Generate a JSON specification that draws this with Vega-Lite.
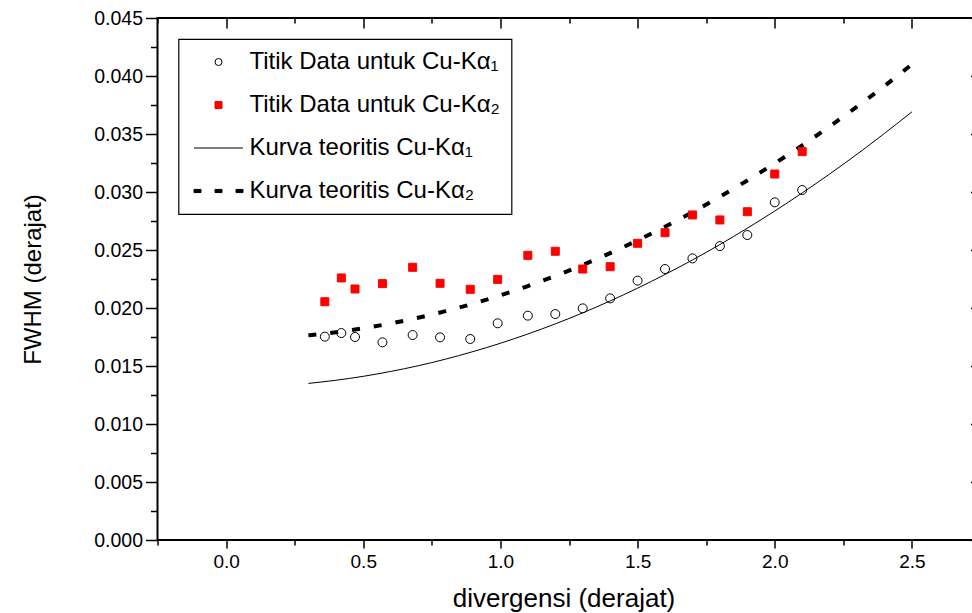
{
  "$schema": "https://vega.github.io/schema/vega-lite/v6.json",
  "autosize": "none",
  "width": 823,
  "height": 522,
  "padding": {"left": 157.5, "top": 18, "right": -8.5, "bottom": 73},
  "background": "white",
  "datasets": {
    "k1pts": [
      {"x": 0.36, "y": 0.01753, "series": "Titik Data untuk Cu-Kα₁"},
      {"x": 0.42, "y": 0.01784, "series": "Titik Data untuk Cu-Kα₁"},
      {"x": 0.47, "y": 0.0175, "series": "Titik Data untuk Cu-Kα₁"},
      {"x": 0.57, "y": 0.01704, "series": "Titik Data untuk Cu-Kα₁"},
      {"x": 0.68, "y": 0.01767, "series": "Titik Data untuk Cu-Kα₁"},
      {"x": 0.78, "y": 0.01747, "series": "Titik Data untuk Cu-Kα₁"},
      {"x": 0.89, "y": 0.01733, "series": "Titik Data untuk Cu-Kα₁"},
      {"x": 0.99, "y": 0.01868, "series": "Titik Data untuk Cu-Kα₁"},
      {"x": 1.10, "y": 0.01934, "series": "Titik Data untuk Cu-Kα₁"},
      {"x": 1.20, "y": 0.01948, "series": "Titik Data untuk Cu-Kα₁"},
      {"x": 1.30, "y": 0.01997, "series": "Titik Data untuk Cu-Kα₁"},
      {"x": 1.40, "y": 0.02083, "series": "Titik Data untuk Cu-Kα₁"},
      {"x": 1.50, "y": 0.02236, "series": "Titik Data untuk Cu-Kα₁"},
      {"x": 1.60, "y": 0.02336, "series": "Titik Data untuk Cu-Kα₁"},
      {"x": 1.70, "y": 0.02428, "series": "Titik Data untuk Cu-Kα₁"},
      {"x": 1.80, "y": 0.02534, "series": "Titik Data untuk Cu-Kα₁"},
      {"x": 1.90, "y": 0.02629, "series": "Titik Data untuk Cu-Kα₁"},
      {"x": 2.00, "y": 0.02911, "series": "Titik Data untuk Cu-Kα₁"},
      {"x": 2.10, "y": 0.03017, "series": "Titik Data untuk Cu-Kα₁"}
    ],
    "k2pts": [
      {"x": 0.36, "y": 0.02054, "series": "Titik Data untuk Cu-Kα₂"},
      {"x": 0.42, "y": 0.02259, "series": "Titik Data untuk Cu-Kα₂"},
      {"x": 0.47, "y": 0.02164, "series": "Titik Data untuk Cu-Kα₂"},
      {"x": 0.57, "y": 0.0221, "series": "Titik Data untuk Cu-Kα₂"},
      {"x": 0.68, "y": 0.02351, "series": "Titik Data untuk Cu-Kα₂"},
      {"x": 0.78, "y": 0.02213, "series": "Titik Data untuk Cu-Kα₂"},
      {"x": 0.89, "y": 0.02161, "series": "Titik Data untuk Cu-Kα₂"},
      {"x": 0.99, "y": 0.02247, "series": "Titik Data untuk Cu-Kα₂"},
      {"x": 1.10, "y": 0.02454, "series": "Titik Data untuk Cu-Kα₂"},
      {"x": 1.20, "y": 0.02489, "series": "Titik Data untuk Cu-Kα₂"},
      {"x": 1.30, "y": 0.02336, "series": "Titik Data untuk Cu-Kα₂"},
      {"x": 1.40, "y": 0.02356, "series": "Titik Data untuk Cu-Kα₂"},
      {"x": 1.50, "y": 0.02558, "series": "Titik Data untuk Cu-Kα₂"},
      {"x": 1.60, "y": 0.02649, "series": "Titik Data untuk Cu-Kα₂"},
      {"x": 1.70, "y": 0.02802, "series": "Titik Data untuk Cu-Kα₂"},
      {"x": 1.80, "y": 0.02759, "series": "Titik Data untuk Cu-Kα₂"},
      {"x": 1.90, "y": 0.0283, "series": "Titik Data untuk Cu-Kα₂"},
      {"x": 2.00, "y": 0.03155, "series": "Titik Data untuk Cu-Kα₂"},
      {"x": 2.10, "y": 0.03348, "series": "Titik Data untuk Cu-Kα₂"}
    ],
    "k1curve": [
      {"x": 0.3, "y": 0.0135}, {"x": 0.4, "y": 0.01377}, {"x": 0.5, "y": 0.01411},
      {"x": 0.6, "y": 0.01453}, {"x": 0.7, "y": 0.01502}, {"x": 0.8, "y": 0.01559},
      {"x": 0.9, "y": 0.01624}, {"x": 1.0, "y": 0.01696}, {"x": 1.1, "y": 0.01776},
      {"x": 1.2, "y": 0.01863}, {"x": 1.3, "y": 0.01958}, {"x": 1.4, "y": 0.02061},
      {"x": 1.5, "y": 0.02171}, {"x": 1.6, "y": 0.02289}, {"x": 1.7, "y": 0.02414},
      {"x": 1.8, "y": 0.02547}, {"x": 1.9, "y": 0.02688}, {"x": 2.0, "y": 0.02836},
      {"x": 2.1, "y": 0.02992}, {"x": 2.2, "y": 0.03155}, {"x": 2.3, "y": 0.03326},
      {"x": 2.4, "y": 0.03505}, {"x": 2.5, "y": 0.03691}
    ],
    "k2curve": [
      {"x": 0.3, "y": 0.01764}, {"x": 0.4, "y": 0.01791}, {"x": 0.5, "y": 0.01825},
      {"x": 0.6, "y": 0.01867}, {"x": 0.7, "y": 0.01916}, {"x": 0.8, "y": 0.01973},
      {"x": 0.9, "y": 0.02037}, {"x": 1.0, "y": 0.02109}, {"x": 1.1, "y": 0.02189},
      {"x": 1.2, "y": 0.02276}, {"x": 1.3, "y": 0.02371}, {"x": 1.4, "y": 0.02473},
      {"x": 1.5, "y": 0.02583}, {"x": 1.6, "y": 0.02701}, {"x": 1.7, "y": 0.02826},
      {"x": 1.8, "y": 0.02959}, {"x": 1.9, "y": 0.03099}, {"x": 2.0, "y": 0.03247},
      {"x": 2.1, "y": 0.03402}, {"x": 2.2, "y": 0.03565}, {"x": 2.3, "y": 0.03736},
      {"x": 2.4, "y": 0.03914}, {"x": 2.5, "y": 0.041}
    ]
  },
  "resolve": {"axis": {"x": "independent", "y": "independent"}},
  "layer": [
    {
      "data": {"name": "k2curve"},
      "mark": {"type": "line", "color": "black", "strokeWidth": 4, "strokeDash": [8, 14], "strokeCap": "butt", "interpolate": "monotone"},
      "encoding": {
        "x": {"field": "x", "type": "quantitative",
          "scale": {"domain": [-0.25, 2.75], "nice": false, "zero": false},
          "axis": {"orient": "bottom", "values": [0, 0.5, 1, 1.5, 2, 2.5], "format": ".1f", "tickSize": 8,
            "labelFontSize": 19, "labelPadding": 4, "title": "divergensi (derajat)", "titleFontSize": 26,
            "titleX": 406, "titleY": 66, "titleBaseline": "alphabetic", "titleAlign": "center"}},
        "y": {"field": "y", "type": "quantitative",
          "scale": {"domain": [0, 0.045], "nice": false, "zero": true},
          "axis": {"orient": "left", "values": [0, 0.005, 0.01, 0.015, 0.02, 0.025, 0.03, 0.035, 0.04, 0.045], "format": ".3f",
            "tickSize": 12, "labelFontSize": 19.5, "labelPadding": 3, "title": "FWHM (derajat)", "titleFontSize": 24,
            "titleX": -124, "titleY": 261, "titleBaseline": "middle", "titleAlign": "center", "titleAngle": -90}}
      }
    },
    {
      "data": {"name": "k1curve"},
      "mark": {"type": "line", "color": "black", "strokeWidth": 1, "interpolate": "monotone"},
      "encoding": {
        "x": {"field": "x", "type": "quantitative",
          "axis": {"orient": "bottom", "values": [-0.25, 0.25, 0.75, 1.25, 1.75, 2.25, 2.75], "labels": false, "tickSize": 5, "title": null}},
        "y": {"field": "y", "type": "quantitative",
          "axis": {"orient": "left", "values": [0.0025, 0.0075, 0.0125, 0.0175, 0.0225, 0.0275, 0.0325, 0.0375, 0.0425], "labels": false, "tickSize": 7, "title": null}}
      }
    },
    {
      "data": {"name": "k1pts"},
      "mark": {"type": "point", "size": 81, "strokeWidth": 1, "opacity": 1},
      "encoding": {
        "x": {"field": "x", "type": "quantitative",
          "axis": {"orient": "top", "values": [0, 0.5, 1, 1.5, 2, 2.5], "labels": false, "tickSize": -10, "title": null}},
        "y": {"field": "y", "type": "quantitative",
          "axis": {"orient": "right", "values": [0, 0.005, 0.01, 0.015, 0.02, 0.025, 0.03, 0.035, 0.04, 0.045], "labels": false, "tickSize": -10, "title": null}},
        "shape": {"field": "series", "type": "nominal",
          "scale": {"domain": ["Titik Data untuk Cu-Kα₁", "Titik Data untuk Cu-Kα₂", "Kurva teoritis Cu-Kα₁", "Kurva teoritis Cu-Kα₂"],
            "range": ["circle", "square", "M-7,0H7", "M-7,-0.45H-5V0.45H-7Z M-1,-0.45H1V0.45H-1Z M5,-0.45H7V0.45H5Z"]},
          "legend": {"title": null}},
        "fill": {"field": "series", "type": "nominal",
          "scale": {"domain": ["Titik Data untuk Cu-Kα₁", "Titik Data untuk Cu-Kα₂", "Kurva teoritis Cu-Kα₁", "Kurva teoritis Cu-Kα₂"],
            "range": ["transparent", "#ff0000", "transparent", "black"]},
          "legend": {"title": null}},
        "stroke": {"field": "series", "type": "nominal",
          "scale": {"domain": ["Titik Data untuk Cu-Kα₁", "Titik Data untuk Cu-Kα₂", "Kurva teoritis Cu-Kα₁", "Kurva teoritis Cu-Kα₂"],
            "range": ["black", "#ff0000", "black", "black"]},
          "legend": {"title": null}}
      }
    },
    {
      "data": {"name": "k2pts"},
      "mark": {"type": "point", "size": 64, "strokeWidth": 1, "opacity": 1},
      "encoding": {
        "x": {"field": "x", "type": "quantitative",
          "axis": {"orient": "top", "values": [-0.25, 0.25, 0.75, 1.25, 1.75, 2.25, 2.75], "labels": false, "tickSize": -5, "title": null}},
        "y": {"field": "y", "type": "quantitative",
          "axis": {"orient": "right", "values": [0.0025, 0.0075, 0.0125, 0.0175, 0.0225, 0.0275, 0.0325, 0.0375, 0.0425], "labels": false, "tickSize": -5, "title": null}},
        "shape": {"field": "series", "type": "nominal", "legend": {"title": null}},
        "fill": {"field": "series", "type": "nominal", "legend": {"title": null}},
        "stroke": {"field": "series", "type": "nominal", "legend": {"title": null}}
      }
    }
  ],
  "config": {
    "font": "Liberation Sans",
    "view": {"stroke": "black", "strokeWidth": 2},
    "axis": {"domain": false, "grid": false, "tickColor": "black", "tickWidth": 1.5, "labelColor": "black",
      "labelFont": "Liberation Sans", "titleFont": "Liberation Sans", "titleFontWeight": "normal", "titleColor": "black"},
    "legend": {
      "orient": "top-left", "offset": 20.5, "padding": 11, "strokeColor": "black", "strokeWidth": 1.2, "fillColor": "white",
      "labelFont": "Liberation Sans", "labelFontSize": 24, "labelColor": "black", "labelLimit": 400,
      "symbolSize": 49, "symbolStrokeWidth": 1, "symbolOffset": 17, "labelOffset": 19, "rowPadding": 19
    }
  }
}
